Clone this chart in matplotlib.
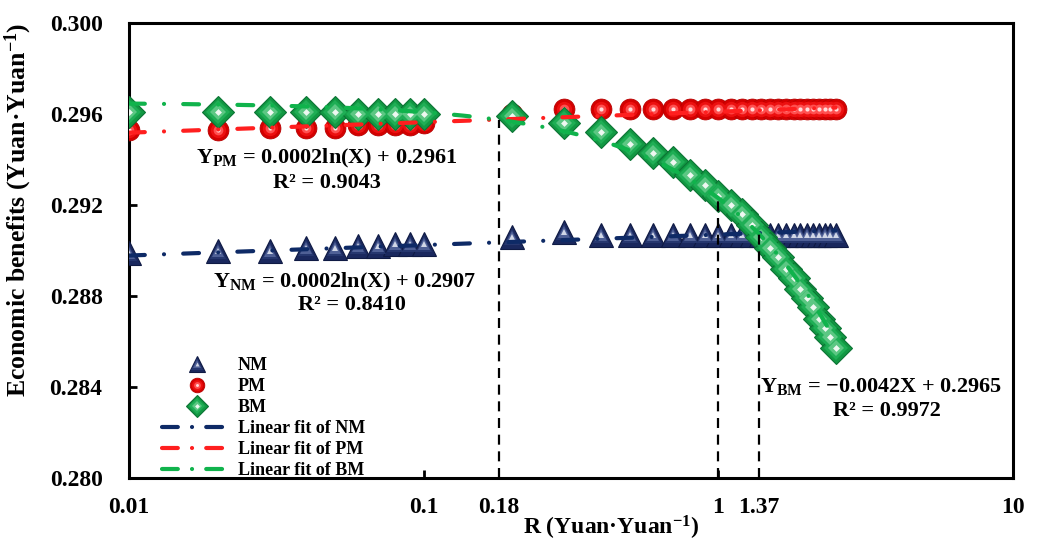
import matplotlib
matplotlib.use("Agg")
import matplotlib.pyplot as plt
import numpy as np
from matplotlib.lines import Line2D
from matplotlib.legend_handler import HandlerTuple

plt.rcParams["font.family"] = ["Liberation Serif", "DejaVu Serif"]
plt.rcParams["font.weight"] = "bold"
plt.rcParams["mathtext.fontset"] = "custom"
plt.rcParams["mathtext.rm"] = "Liberation Serif:bold"
plt.rcParams["mathtext.it"] = "Liberation Serif:italic:bold"
plt.rcParams["mathtext.bf"] = "Liberation Serif:bold"

# ---- data -------------------------------------------------------------
ratio = [0.01, 0.02, 0.03, 0.04, 0.05, 0.06, 0.07, 0.08, 0.09, 0.1,
         0.2, 0.3, 0.4, 0.5, 0.6, 0.7, 0.8, 0.9, 1.0,
         1.1, 1.2, 1.3, 1.4, 1.5, 1.6, 1.7, 1.8, 1.9, 2.0,
         2.1, 2.2, 2.3, 2.4, 2.5]

nm = [0.2899, 0.2900, 0.2900, 0.2901, 0.2901, 0.2902, 0.2902, 0.2903, 0.2903, 0.2903,
      0.2906, 0.2908, 0.2907, 0.2907, 0.2907, 0.2907, 0.2907, 0.2907, 0.2907,
      0.2907, 0.2907, 0.2907, 0.2907, 0.2907, 0.2907, 0.2907, 0.2907, 0.2907, 0.2907,
      0.2907, 0.2907, 0.2907, 0.2907, 0.2907]

pm = [0.2953, 0.2953, 0.2954, 0.2954, 0.2954, 0.2955, 0.2955, 0.2955, 0.2955, 0.2956,
      0.2960, 0.2962, 0.2962, 0.2962, 0.2962, 0.2962, 0.2962, 0.2962, 0.2962,
      0.2962, 0.2962, 0.2962, 0.2962, 0.2962, 0.2962, 0.2962, 0.2962, 0.2962, 0.2962,
      0.2962, 0.2962, 0.2962, 0.2962, 0.2962]

bm = [0.2961, 0.2961, 0.2961, 0.2961, 0.2961, 0.2960, 0.2960, 0.2960, 0.2960, 0.2960,
      0.2959, 0.2956, 0.2952, 0.2947, 0.2943, 0.2939, 0.2933, 0.2929, 0.2924,
      0.2920, 0.2916, 0.2911, 0.2906, 0.2901, 0.2897, 0.2892, 0.2888, 0.2883, 0.2879,
      0.2875, 0.2870, 0.2866, 0.2862, 0.2857]

# fitted models: NM, PM -> a*ln(x) + b ; BM -> a*x + b
nm_fit = (0.0002, 0.2907)
pm_fit = (0.0002, 0.2961)
bm_fit = (-0.0042, 0.2965)
fit_range = (0.01, 2.5)

# reference ratios marked by dashed drop lines
marked_ratios = [0.18, 1.0, 1.37]

xtick_vals = [0.01, 0.1, 1, 10]
xtick_labels = ["0.01", "0.1", "1", "10"]
xtick_extra_vals = [0.18, 1.37]
xtick_extra_labels = ["0.18", "1.37"]
ytick_vals = [0.280, 0.284, 0.288, 0.292, 0.296, 0.300]
ytick_labels = ["0.280", "0.284", "0.288", "0.292", "0.296", "0.300"]

# ---- styling ----------------------------------------------------------
NAVY_LINE = "#0e2a66"
RED_LINE = "#ff1f1f"
GREEN_LINE = "#10b34c"
FIT_DASH = (3.8, 4.6, 0.01, 4.6)

fig = plt.figure(figsize=(10.38, 5.40), dpi=100)
ax = fig.add_axes([129 / 1038, 1 - 478 / 540, 884 / 1038, 455 / 540])

ax.set_xscale("log")
ax.set_xlim(0.01, 10)
ax.set_ylim(0.280, 0.300)


def shaded(x, y, marker, layers, z):
    """Stack progressively lighter, smaller markers to give a glossy look."""
    for i, (ms, fc, ec, mew) in enumerate(layers):
        ax.plot(x, y, ls="none", marker=marker, ms=ms, mfc=fc, mec=ec,
                mew=mew, zorder=z + i * 0.01)


nm_layers = [(17, "#1a285e", "#0f1a44", 0.8), (12, "#26376f", "none", 0),
             (8, "#4f6096", "none", 0), (4, "#d0d6e6", "none", 0)]
pm_layers = [(15, "#d40000", "#b80000", 0.6), (11, "#ec1010", "none", 0),
             (7, "#ff5050", "none", 0), (3, "#ffdcdc", "none", 0)]
bm_layers = [(16, "#129843", "#0b7434", 0.8), (12, "#1fae55", "none", 0),
             (8, "#5cc783", "none", 0), (3.5, "#eef8f1", "none", 0)]

shaded(ratio, nm, "^", nm_layers, 3.0)
shaded(ratio, pm, "o", pm_layers, 3.1)
shaded(ratio, bm, "D", bm_layers, 3.2)

xf = np.geomspace(fit_range[0], fit_range[1], 400)
fit_kw = dict(lw=3, dashes=FIT_DASH, dash_capstyle="round", zorder=4)
ax.plot(xf, nm_fit[0] * np.log(xf) + nm_fit[1], color=NAVY_LINE, **fit_kw)
ax.plot(xf, pm_fit[0] * np.log(xf) + pm_fit[1], color=RED_LINE, **fit_kw)
ax.plot(xf, bm_fit[0] * xf + bm_fit[1], color=GREEN_LINE, **fit_kw)

for xv in marked_ratios:
    top = bm_fit[0] * xv + bm_fit[1]
    ax.plot([xv, xv], [0.280, top], color="black", lw=1.6,
            dashes=(4.5, 3), zorder=5)

# ---- axes -------------------------------------------------------------
for s in ax.spines.values():
    s.set_linewidth(2.2)

ax.set_xticks(xtick_vals, labels=xtick_labels)
ax.set_xticks(xtick_extra_vals, labels=xtick_extra_labels, minor=True)
ax.set_yticks(ytick_vals, labels=ytick_labels)
ax.tick_params(axis="both", which="major", direction="in", length=6,
               width=2, labelsize=17)
ax.tick_params(axis="x", which="both", pad=14, labelsize=17)
ax.tick_params(axis="x", which="minor", length=0)
ax.tick_params(axis="y", which="major", pad=19)
ax.tick_params(axis="y", which="minor", left=False)

ax.set_xlabel(r"R (Yuan·Yuan$\mathregular{^{-1}}$)", fontsize=17,
              fontweight="bold")
ax.set_ylabel(r"Economic benefits (Yuan·Yuan$\mathregular{^{-1}}$)",
              fontsize=18.5, fontweight="bold")
ax.xaxis.set_label_coords(0.545, -0.078)
ax.yaxis.set_label_coords(-0.107, 0.59)

# ---- equations --------------------------------------------------------
tk = dict(transform=ax.transAxes, ha="center", va="center", fontsize=16,
          fontweight="bold", zorder=6)
ax.text(0.224, 0.702, r"$\mathregular{Y_{PM}}$ = 0.0002ln(X) + 0.2961", **tk)
ax.text(0.224, 0.648, "R² = 0.9043", **tk)
ax.text(0.244, 0.430, r"$\mathregular{Y_{NM}}$ = 0.0002ln(X) + 0.2907", **tk)
ax.text(0.252, 0.380, "R² = 0.8410", **tk)
ax.text(0.851, 0.202, r"$\mathregular{Y_{BM}}$ = −0.0042X + 0.2965", **tk)
ax.text(0.857, 0.147, "R² = 0.9972", **tk)

# ---- legend -----------------------------------------------------------
def legend_marker(marker, layers):
    scale = 0.7
    return tuple(Line2D([], [], ls="none", marker=marker, ms=ms * scale,
                        mfc=fc, mec=ec, mew=mew)
                 for ms, fc, ec, mew in layers)


def legend_line(color):
    return Line2D([], [], color=color, lw=3, dashes=(3.8, 3.4, 0.01, 3.4),
                  dash_capstyle="round")


handles = [legend_marker("^", nm_layers), legend_marker("o", pm_layers),
           legend_marker("D", bm_layers), legend_line(NAVY_LINE),
           legend_line(RED_LINE), legend_line(GREEN_LINE)]
labels = ["NM", "PM", "BM", "Linear fit of NM", "Linear fit of PM",
          "Linear fit of BM"]
leg = ax.legend(handles, labels, loc="upper left",
                bbox_to_anchor=(0.037, 0.266), frameon=False,
                handlelength=3.9, handletextpad=0.3, labelspacing=0.22,
                borderpad=0, borderaxespad=0, numpoints=1,
                handler_map={tuple: HandlerTuple(ndivide=1, pad=0)},
                prop={"weight": "bold", "size": 13})
leg.set_zorder(7)

fig.savefig("out.png", dpi=100)
